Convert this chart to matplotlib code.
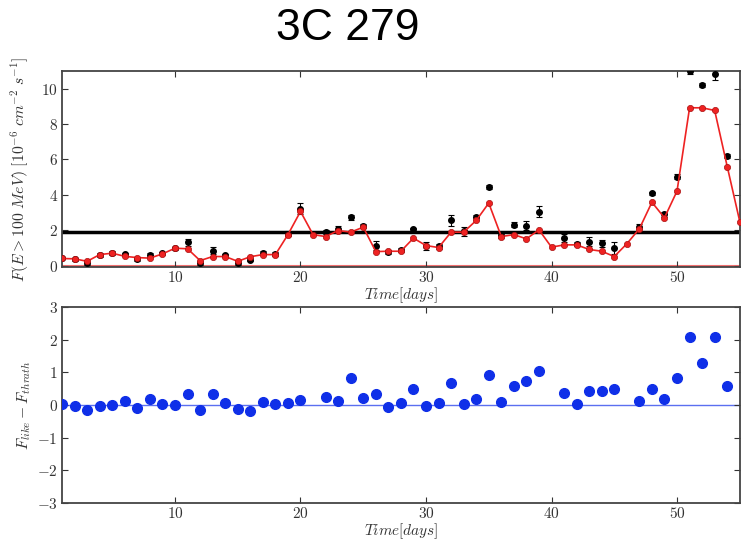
import numpy as np
import matplotlib
matplotlib.use("Agg")
import matplotlib.pyplot as plt
from matplotlib.ticker import FuncFormatter

nan = np.nan
days = list(range(1, 56))
f_thresh = [0.40, 0.38, 0.24, 0.62, 0.70, 0.52, 0.45, 0.42, 0.66, 0.98,
            0.95, 0.28, 0.51, 0.51, 0.24, 0.50, 0.62, 0.62, 1.75, 3.06,
            1.75, 1.64, 1.98, 1.89, 2.17, 0.79, 0.81, 0.81, 1.55, 1.13,
            1.02, 1.89, 1.89, 2.55, 3.53, 1.64, 1.75, 1.51, 2.02, 1.04,
            1.17, 1.17, 0.91, 0.81, 0.51, 1.23, 2.08, 3.58, 2.70, 4.21,
            8.92, 8.92, 8.77, 5.60, 2.49]
f_like = [0.43, 0.35, 0.12, 0.60, 0.72, 0.63, 0.36, 0.60, 0.69, 0.97,
          1.32, 0.15, 0.83, 0.57, 0.13, 0.33, 0.71, 0.66, 1.80, 3.22,
          nan, 1.88, 2.09, 2.72, 2.22, 1.12, 0.76, 0.87, 2.05, 1.10,
          1.08, 2.56, 1.93, 2.73, 4.45, 1.73, 2.32, 2.25, 3.05, nan,
          1.55, 1.21, 1.35, 1.25, 0.99, nan, 2.20, 4.08, 2.89, 5.03,
          10.99, 10.20, 10.84, 6.19, nan]
f_err = [0.08, 0.08, 0.10, 0.10, 0.12, 0.10, 0.08, 0.10, 0.08, 0.10,
         0.20, 0.10, 0.20, 0.10, 0.10, 0.10, 0.10, 0.10, 0.15, 0.30,
         nan, 0.12, 0.15, 0.12, 0.12, 0.25, 0.10, 0.10, 0.10, 0.22,
         0.12, 0.30, 0.25, 0.15, 0.10, 0.15, 0.12, 0.25, 0.30, nan,
         0.22, 0.12, 0.25, 0.20, 0.35, nan, 0.15, 0.10, 0.15, 0.12,
         0.15, 0.12, 0.35, 0.12, nan]
resid = [0.03, -0.03, -0.14, -0.04, 0.01, 0.13, -0.10, 0.18, 0.04, -0.01,
         0.35, -0.15, 0.33, 0.06, -0.12, -0.18, 0.09, 0.04, 0.05, 0.14,
         nan, 0.24, 0.11, 0.84, 0.21, 0.33, -0.06, 0.06, 0.50, -0.03,
         0.06, 0.67, 0.04, 0.18, 0.92, 0.09, 0.57, 0.74, 1.03, nan,
         0.38, 0.04, 0.44, 0.44, 0.48, nan, 0.12, 0.50, 0.19, 0.82,
         2.07, 1.28, 2.07, 0.59, nan]
threshold_level = 1.88
xticks = [10, 20, 30, 40, 50]
yticks_top = [0, 2, 4, 6, 8, 10]
yticks_bot = [-3, -2, -1, 0, 1, 2, 3]

plt.rcParams['mathtext.fontset'] = 'cm'
plt.rcParams['axes.unicode_minus'] = True

fig = plt.figure(figsize=(7.42, 5.4), dpi=100)
ax1 = fig.add_axes([0.0836, 0.5056, 0.9134, 0.3629])
ax2 = fig.add_axes([0.0836, 0.0685, 0.9134, 0.3630])

fmt = FuncFormatter(lambda v, p: r'$%d$' % v)

# top
ax1.axhline(0, color='#f07070', lw=1.5, zorder=1)
ax1.axhline(threshold_level, color='black', lw=2.5, zorder=2)
ax1.errorbar(days, f_like, yerr=f_err, fmt='o', color='black', ms=4,
             ecolor='black', elinewidth=0.8, capsize=2.5, capthick=0.8, zorder=3)
ax1.plot(days, f_thresh, '-o', color='#ee2222', ms=4.5, mfc='#ee2222',
         mec='#aa1111', mew=0.5, lw=1.2, zorder=4)
ax1.set_xlim(1, 55)
ax1.set_ylim(-0.08, 11)
ax1.set_yticks(yticks_top)
ax1.set_xticks(xticks)
ax1.set_xlabel(r'$Time[days]$', fontsize=11, labelpad=0, color='#333333')
ax1.set_ylabel(r'$F(E>100\ MeV)\ [10^{-6}\ cm^{-2}\ s^{-1}]$', fontsize=11.3,
               labelpad=7, color='#333333')

# bottom
ax2.axhline(0, color='#5b6ff0', lw=1.0, zorder=1)
ax2.plot(days, resid, 'o', color='#0f2fe8', ms=7, mec='#0f2fe8', zorder=3)
ax2.set_xlim(1, 55)
ax2.set_ylim(-3, 3)
ax2.set_yticks(yticks_bot)
ax2.set_xticks(xticks)
ax2.set_xlabel(r'$Time[days]$', fontsize=11, labelpad=-0.3, color='#333333')
ax2.set_ylabel(r'$F_{like}-F_{thrath}$', fontsize=11.3, labelpad=3, color='#333333')

for ax in (ax1, ax2):
    ax.xaxis.set_major_formatter(fmt)
    ax.yaxis.set_major_formatter(fmt)
    ax.tick_params(direction='in', top=True, right=True, length=4,
                   labelsize=11, colors='#333333', pad=3)
    ax.tick_params(axis='x', pad=2.5)
    for s in ax.spines.values():
        s.set_linewidth(1.3)
        s.set_color('#444444')

fig.text(0.468, 0.948, '3C 279', fontsize=32, ha='center', va='center',
         family='Liberation Sans')

fig.savefig('out.png', dpi=100)
